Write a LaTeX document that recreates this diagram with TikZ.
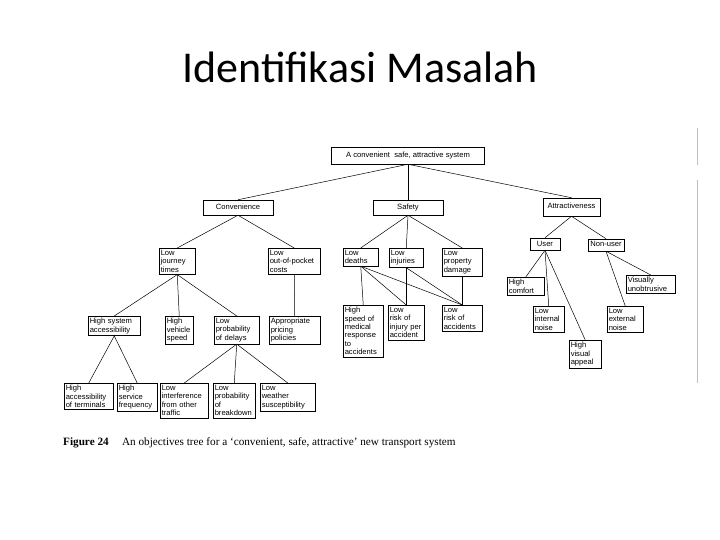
\documentclass[tikz,border=0pt]{standalone}
\usepackage{fontspec}
\newfontfamily\titlefont{Carlito}
\newfontfamily\boxfont{Liberation Sans}
\newfontfamily\capfont{Liberation Serif}
\tikzset{
  headbox/.style={draw,line width=0.5pt,align=center,inner sep=0pt,text height=5.6pt,text depth=1.6pt,
    font=\boxfont\fontsize{7.6}{8.4}\selectfont},
  objbox/.style={draw,line width=0.5pt,align=left,anchor=north west,
    inner xsep=1.5pt,inner ysep=2pt,font=\boxfont\fontsize{7.6}{8.4}\selectfont},
  link/.style={line width=0.5pt}
}
\begin{document}
\begin{tikzpicture}[x=1pt,y=-1pt]
\fill[white] (0,0) rectangle (720,540);
\useasboundingbox (0,0) rectangle (720,540);
\node[font=\titlefont\fontsize{44}{50}\selectfont,anchor=base] (title) at (360,83) {Identifikasi Masalah};
% main goals
\foreach \x/\y/\w/\h/\name/\txt in {408/155.5/153/17/top/{A convenient\ \ safe, attractive system},
  238/207.5/70/15/conv/Convenience,408/207.5/70/15/safe/Safety,
  571.5/207/57/18/attr/Attractiveness,545/244/30/12/user/User,606/245/36/12/nonuser/Non-user}
{
\node[headbox,minimum width=\w pt,minimum height=\h pt] (\name) at (\x,\y) {\txt};
}
% sub-objectives
\foreach \x/\y/\tw/\name/\txt in {159/248/33/jt/{Low\\journey\\times},
  268/248/49/oop/{Low\\out-of-pocket\\costs},
  343/248/32/ldeath/{Low\\deaths},389/248/31/linj/{Low\\injuries},
  442/248/37/lprop/{Low\\property\\damage},
  88/316/49/hsa/{High system\\accessibility},165/316/25/hvs/{High\\vehicle\\speed},
  214/316/42/lpd/{Low\\probability\\of delays},269/316/48/app/{Appropriate\\pricing\\policies},
  343/305/37/hsm/{High\\speed of\\medical\\response\\to\\accidents},
  388/305/33/lri/{Low\\risk of\\injury per\\accident},
  442/305/37/lra/{Low\\risk of\\accidents},
  507/277/34/hc/{High\\comfort},626/275/46/vu/{Visually\\unobtrusive},
  533/306/28/lin/{Low\\internal\\noise},607/306/33/lext/{Low\\external\\noise},
  569/340/29/hva/{High\\visual\\appeal},
  64/383/46/hat/{High\\accessibility\\of terminals},117/383/37/hsf/{High\\service\\frequency},
  160/383/45/lit/{Low\\interference\\from other\\traffic},
  213/383/39/lpb/{Low\\probability\\of\\breakdown},
  260/383/52/lws/{Low\\weather\\susceptibility}}
{
\node[objbox,text width=\tw pt] (\name) at (\x,\y) {\txt};
}
\draw[link] (top.south) -- (conv.north);
\draw[link] (top.south) -- (safe.north);
\draw[link] (top.south) -- (attr.north);
\draw[link] (conv.south) -- (jt.north);
\draw[link] (conv.south) -- (oop.north);
\draw[link] (safe.south) -- (ldeath.north);
\draw[link] (safe.south) -- (linj.north);
\draw[link] (safe.south) -- (lprop.north);
\draw[link] (attr.south) -- (user.north);
\draw[link] (attr.south) -- (nonuser.north);
\draw[link] (user.south) -- (hc.north);
\draw[link] (user.south) -- (lin.north);
\draw[link] (user.south) -- (hva.north);
\draw[link] (nonuser.south) -- (vu.north);
\draw[link] (nonuser.south) -- (lext.north);
\draw[link] (jt.south) -- (hsa.north);
\draw[link] (jt.south) -- (hvs.north);
\draw[link] (jt.south) -- (lpd.north);
\draw[link] (oop.south) -- (app.north);
\draw[link] (hsa.south) -- (hat.north);
\draw[link] (hsa.south) -- (hsf.north);
\draw[link] (lpd.south) -- (lit.north);
\draw[link] (lpd.south) -- (lpb.north);
\draw[link] (lpd.south) -- (lws.north);
\draw[link] (ldeath.south) -- (hsm.north);
\draw[link] (ldeath.south) -- (lri.north);
\draw[link] (ldeath.south) -- (lra.north);
\draw[link] (linj.south) -- (lri.north);
\draw[link] (linj.south) -- (lra.north);
\draw[link] (lprop.south) -- (lra.north);
% scan edge
\draw[gray!50,line width=0.8pt] (697,128) -- (697,165);
\draw[gray!50,line width=0.8pt] (697,180) -- (697,383);
\node[font=\capfont\fontsize{11.2}{13}\selectfont,anchor=base west,inner sep=0pt] (caption) at (63,445)
  {\textbf{Figure 24}\hspace{1.2em}An objectives tree for a ‘convenient, safe, attractive’ new transport system};
\end{tikzpicture}
\end{document}
